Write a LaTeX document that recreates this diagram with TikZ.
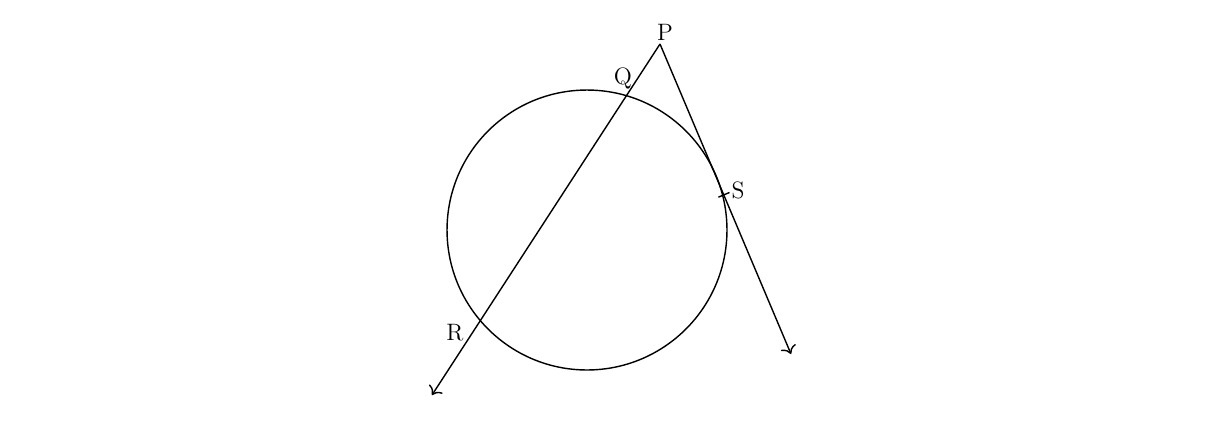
\documentclass[tikz,border=0pt]{standalone}
\usepackage{amsmath}
\usepackage{tikz}
\usetikzlibrary{positioning,calc,arrows.meta}

\begin{document}
\begin{tikzpicture}[x=0.02cm,y=-0.02cm,line width=0.8pt,
				>={To[scale=1.3]},
				lbl/.style={inner sep=1pt,font=\fontsize{13.5}{15}\selectfont}]
				\useasboundingbox (0,0) rectangle (1224,444);
				% circle and the two lines from P
				\coordinate (O) at (587,230);
				\coordinate (P) at (660,44);
				\coordinate (A) at (432,395);
				\coordinate (B) at (791,354);
				\coordinate (S) at (723.5,195);
				\draw (O) circle (2.8cm);
				\draw[->] (P) -- (A);
				\draw[->] (P) -- (B);
				\draw ($(S)!0.13cm!90:(B)$) -- ($(S)!0.11cm!-90:(B)$);
				% labels
				\node[lbl] (lP) at (665,32) {P};
				\node[lbl] (lQ) at (623,78) {Q};
				\node[lbl] (lR) at (455,333) {R};
				\node[lbl] (lS) at (738,190) {S};
			  \end{tikzpicture}
\end{document}
